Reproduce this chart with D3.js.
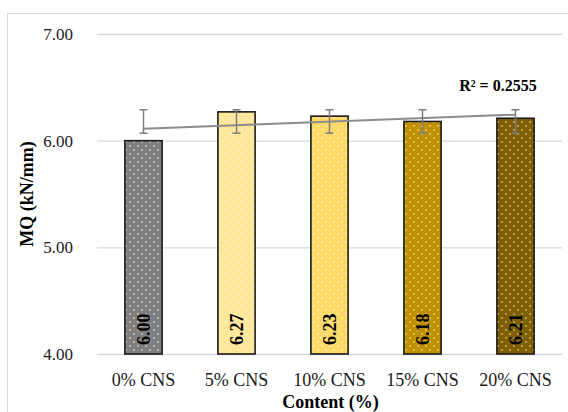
<!DOCTYPE html>
<html>
<head>
<meta charset="utf-8">
<script src="https://cdn.jsdelivr.net/npm/d3@7"></script>
<style>
  html, body { margin: 0; padding: 0; background: #fff; }
  svg { display: block; }
  svg text { font-family: "Liberation Serif", "Times New Roman", Times, "DejaVu Serif", serif; }
</style>
</head>
<body>
<svg id="chart" width="568" height="412"></svg>
<script>
// Flexural stiffness (MQ) by CNS content
const categories = ["0% CNS", "5% CNS", "10% CNS", "15% CNS", "20% CNS"];
const mqValues = [6.00, 6.27, 6.23, 6.18, 6.21];
const errLow = [6.07, 6.07, 6.07, 6.07, 6.07];
const errHigh = [6.29, 6.29, 6.29, 6.29, 6.29];
const barColors = ["#7f7f7f", "#ffe699", "#ffd966", "#bf9000", "#7f6000"];
const yTicks = [4, 5, 6, 7];
const rSquaredLabel = "R² = 0.2555";

const svg = d3.select("#chart");
const W = 568, H = 412;
const margin = { left: 97, right: 6, top: 34, bottom: 58 };
const serif = "Liberation Serif, Times New Roman, serif";

// chart frame
svg.append("rect")
  .attr("x", 7.5).attr("y", 13.5)
  .attr("width", W + 10).attr("height", H + 10)
  .attr("fill", "#fff").attr("stroke", "#d9d9d9").attr("stroke-width", 1);

const x = d3.scaleBand()
  .domain(categories)
  .range([margin.left, W - margin.right])
  .paddingInner(0.6).paddingOuter(0.3);

const y = d3.scaleLinear()
  .domain([4, 7])
  .range([H - margin.bottom, margin.top]);

// dotted fill patterns
const defs = svg.append("defs");
barColors.forEach((c, i) => {
  const p = defs.append("pattern")
    .attr("id", "dots" + i)
    .attr("patternUnits", "userSpaceOnUse")
    .attr("width", 8).attr("height", 8);
  p.append("rect").attr("width", 8).attr("height", 8).attr("fill", c);
  p.append("circle").attr("cx", 2).attr("cy", 2).attr("r", 0.8).attr("fill", "#fff").attr("opacity", 0.85);
  p.append("circle").attr("cx", 6).attr("cy", 6).attr("r", 0.8).attr("fill", "#fff").attr("opacity", 0.85);
});

// gridlines + y tick labels
const yAxis = d3.axisLeft(y)
  .tickValues(yTicks)
  .tickSize(-(W - margin.right - margin.left))
  .tickPadding(24)
  .tickFormat(d3.format(".2f"));

const gy = svg.append("g")
  .attr("transform", `translate(${margin.left},0)`)
  .call(yAxis)
  .attr("font-family", null);
gy.select(".domain").remove();
gy.selectAll(".tick line").attr("stroke", "#d9d9d9").attr("stroke-width", 1.3);
gy.selectAll(".tick text")
  .style("font-family", serif).attr("font-size", 17).attr("fill", "#1a1a1a");

// bars
svg.append("g").selectAll("rect")
  .data(mqValues)
  .join("rect")
  .attr("x", (d, i) => x(categories[i]))
  .attr("y", d => y(d))
  .attr("width", x.bandwidth())
  .attr("height", d => y(4) - y(d))
  .attr("fill", (d, i) => `url(#dots${i})`)
  .attr("stroke", "#1a1a1a")
  .attr("stroke-width", 1.6);

// value labels, rotated at bar base
svg.append("g").selectAll("text")
  .data(mqValues)
  .join("text")
  .attr("transform", (d, i) => `translate(${x(categories[i]) + x.bandwidth() / 2 + 6},${y(4) - 9}) rotate(-90)`)
  .style("font-family", serif).attr("font-weight", "bold").attr("font-size", 18)
  .attr("fill", "#000")
  .text(d => d.toFixed(2));

// linear trendline over category index
const xs = mqValues.map((d, i) => i + 1);
const mx = d3.mean(xs), my = d3.mean(mqValues);
const slope = d3.sum(xs, (xi, i) => (xi - mx) * (mqValues[i] - my)) / d3.sum(xs, xi => (xi - mx) ** 2);
const intercept = my - slope * mx;
const cx = i => x(categories[i]) + x.bandwidth() / 2;

svg.append("line")
  .attr("x1", cx(0)).attr("y1", y(intercept + slope * 1))
  .attr("x2", cx(categories.length - 1)).attr("y2", y(intercept + slope * categories.length))
  .attr("stroke", "#8c8c8c").attr("stroke-width", 2);

// error bars
const eb = svg.append("g").attr("stroke", "#7f7f7f").attr("stroke-width", 1.5);
categories.forEach((c, i) => {
  eb.append("line").attr("x1", cx(i)).attr("x2", cx(i)).attr("y1", y(errLow[i])).attr("y2", y(errHigh[i]));
  eb.append("line").attr("x1", cx(i) - 4).attr("x2", cx(i) + 4).attr("y1", y(errLow[i])).attr("y2", y(errLow[i]));
  eb.append("line").attr("x1", cx(i) - 4).attr("x2", cx(i) + 4).attr("y1", y(errHigh[i])).attr("y2", y(errHigh[i]));
});

// R² label
svg.append("text")
  .attr("x", 498).attr("y", 91)
  .attr("text-anchor", "middle")
  .style("font-family", serif).attr("font-weight", "bold").attr("font-size", 16)
  .attr("fill", "#000")
  .text(rSquaredLabel);

// x tick labels
svg.append("g").selectAll("text")
  .data(categories)
  .join("text")
  .attr("x", (d, i) => cx(i))
  .attr("y", 386)
  .attr("text-anchor", "middle")
  .style("font-family", serif).attr("font-size", 18).attr("fill", "#1a1a1a")
  .text(d => d);

// axis titles
svg.append("text")
  .attr("x", (margin.left + W - margin.right) / 2 + 1).attr("y", 408)
  .attr("text-anchor", "middle")
  .style("font-family", serif).attr("font-weight", "bold").attr("font-size", 18)
  .attr("fill", "#000")
  .text("Content (%)");

svg.append("text")
  .attr("transform", `translate(33,${y(5.5)}) rotate(-90)`)
  .attr("text-anchor", "middle")
  .style("font-family", serif).attr("font-weight", "bold").attr("font-size", 18)
  .attr("fill", "#000")
  .text("MQ (kN/mm)");
</script>
</body>
</html>
